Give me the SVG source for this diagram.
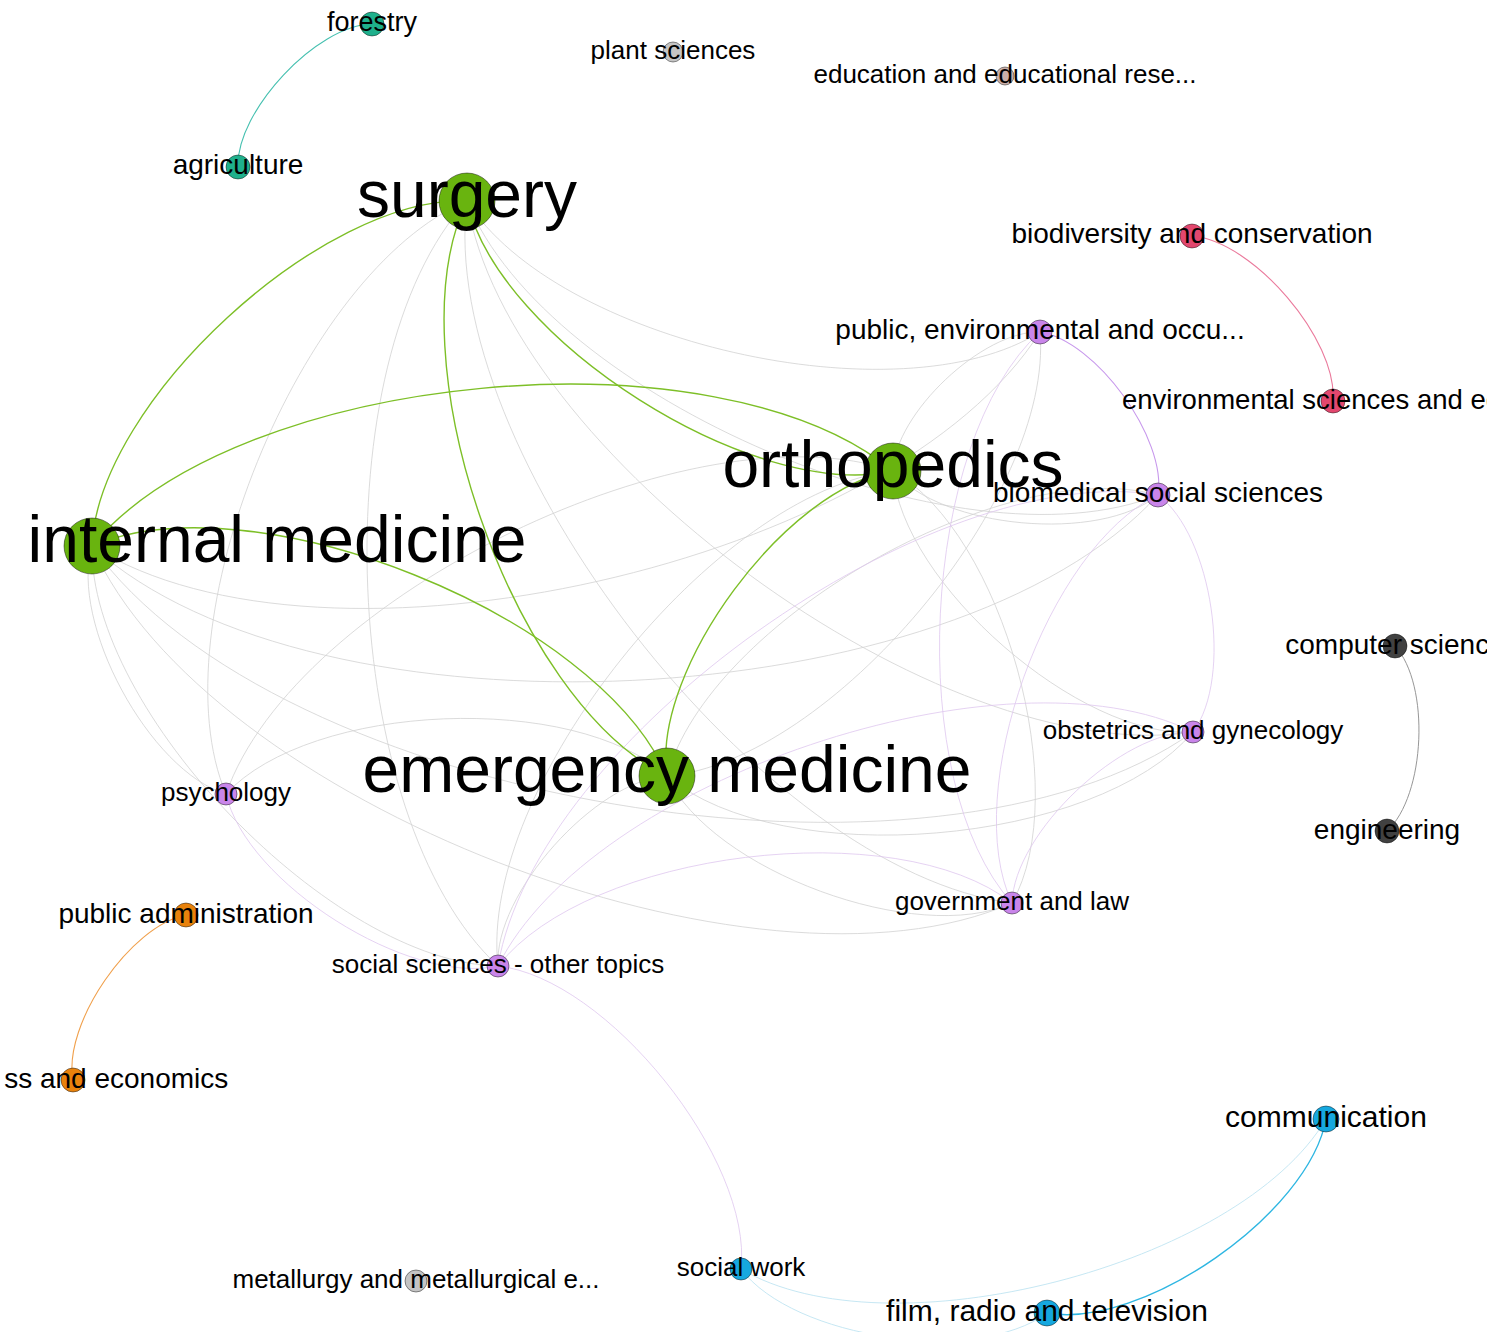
<svg xmlns="http://www.w3.org/2000/svg" width="1506" height="1332" viewBox="0 0 1506 1332">
  <style>
    text { font-family: "Liberation Sans", Arial, sans-serif; fill: #000; text-anchor: middle; }
    .big { font-size: 66px; }
    .s26 { font-size: 26px; }
    .s28 { font-size: 28px; }
    .s30 { font-size: 30px; }
    .edges path { fill: none; }
    .e-green { stroke: #7dbf27; stroke-width: 1.4; }
    .e-gray { stroke: #d2d2d2; stroke-width: 0.8; }
    .e-lilac { stroke: #dec7ef; stroke-width: 0.8; }
    .e-purple { stroke: #c797ec; stroke-width: 1.1; }
    .e-teal { stroke: #46c0b0; stroke-width: 1.1; }
    .e-pink { stroke: #ea7a9c; stroke-width: 1.1; }
    .e-orange { stroke: #f0a04c; stroke-width: 1.1; }
    .e-dark { stroke: #8a8a8a; stroke-width: 0.9; }
    .e-blue { stroke: #2eb6e2; stroke-width: 1.4; }
    .e-blue-faint { stroke: #bfe4f2; stroke-width: 0.9; }
    circle { stroke: #000; stroke-opacity: 0.55; stroke-width: 0.8; }
    .n-green { fill: #69b40f; }
    .n-purple { fill: #c985ea; }
    .n-teal { fill: #1fb08c; }
    .n-red { fill: #e2476e; }
    .n-orange { fill: #e8820c; }
    .n-blue { fill: #16a8df; }
    .n-dark { fill: #414141; }
    .n-light { fill: #c4c4c4; }
    .n-rose { fill: #cbafa8; }
  </style>
  <defs>
    <!-- drawing area: labels running past it are trimmed -->
    <clipPath id="frame"><rect x="4" y="0" width="1483" height="1332"/></clipPath>
  </defs>

  <g clip-path="url(#frame)">
  <!-- curved connectors (cubic arcs, Gephi style) -->
  <g id="edges" class="edges">
    <!-- faint cross links inside the medical / social cluster -->
    <path class="e-gray" d="M1040 332 C899.2 420.4 555.4 341.8 467 201"/>
    <path class="e-gray" d="M1158 495 C961 574.4 546.4 398 467 201"/>
    <path class="e-gray" d="M1193 732 C941.6 771 506 452.4 467 201"/>
    <path class="e-gray" d="M1012 903 C762.6 871.6 435.6 450.4 467 201"/>
    <path class="e-gray" d="M226 794 C155.6 627.2 300.2 271.4 467 201"/>
    <path class="e-gray" d="M498 966 C338.8 819.2 320.2 360.2 467 201"/>
    <path class="e-gray" d="M226 794 C149.6 771.2 69.2 622.4 92 546"/>
    <path class="e-gray" d="M498 966 C332.8 963.2 89.2 711.2 92 546"/>
    <path class="e-gray" d="M1040 332 C893.2 564.4 324.4 692.8 92 546"/>
    <path class="e-gray" d="M1158 495 C955 718.4 315.4 749 92 546"/>
    <path class="e-gray" d="M1193 732 C935.6 915 275 803.4 92 546"/>
    <path class="e-gray" d="M1012 903 C756.6 1015.6 204.6 801.4 92 546"/>
    <path class="e-gray" d="M893 471 C894.6 413.8 982.8 330.4 1040 332"/>
    <path class="e-gray" d="M1158 495 C1100.2 543.2 941.2 528.8 893 471"/>
    <path class="e-gray" d="M1193 732 C1080.8 739.8 900.8 583.2 893 471"/>
    <path class="e-gray" d="M893 471 C1003.2 533.6 1074.6 792.8 1012 903"/>
    <path class="e-gray" d="M498 966 C478 788 715 491 893 471"/>
    <path class="e-gray" d="M226 794 C294.8 596 695 402.2 893 471"/>
    <path class="e-gray" d="M1040 332 C1054.2 495.4 830.4 761.8 667 776"/>
    <path class="e-gray" d="M667 776 C709 621.6 1003.6 453 1158 495"/>
    <path class="e-gray" d="M1193 732 C1096.6 846 781 872.4 667 776"/>
    <path class="e-gray" d="M1012 903 C917.6 946.6 710.6 870.4 667 776"/>
    <path class="e-gray" d="M226 794 C310.6 702.2 575.2 691.4 667 776"/>
    <path class="e-gray" d="M498 966 C493.8 894.2 595.2 780.2 667 776"/>
    <path class="e-lilac" d="M1012 903 C903.4 783.2 920.2 440.6 1040 332"/>
    <path class="e-lilac" d="M1012 903 C959.6 792.2 1047.2 547.4 1158 495"/>
    <path class="e-lilac" d="M1012 903 C1014 832.6 1122.6 730 1193 732"/>
    <path class="e-lilac" d="M498 966 C409.2 986 246 882.8 226 794"/>
    <path class="e-lilac" d="M498 966 C590.2 780.2 1007.2 639.8 1193 732"/>
    <path class="e-lilac" d="M498 966 C535.8 739.8 931.8 457.2 1158 495"/>
    <path class="e-lilac" d="M498 966 C588.2 850.6 896.6 812.8 1012 903"/>
    <path class="e-lilac" d="M1158 495 C1212.4 535.4 1233.4 677.6 1193 732"/>
    <path class="e-lilac" d="M498 966 C607.2 978 753 1159.8 741 1269"/>
    <!-- communication cluster -->
    <path class="e-blue-faint" d="M1326 1119 C1239 1266 888 1356 741 1269"/>
    <path class="e-blue-faint" d="M1047 1313 C977 1365.4 793.4 1339 741 1269"/>
    <path class="e-blue" d="M1326 1119 C1309 1213.6 1141.6 1330 1047 1313"/>
    <!-- small two-node clusters -->
    <path class="e-purple" d="M1040 332 C1096.2 341 1167 438.8 1158 495"/>
    <path class="e-teal" d="M238 167 C236 111.4 316.4 25 372 24"/>
    <path class="e-pink" d="M1192 236 C1253.2 240.8 1337.8 339.8 1333 401"/>
    <path class="e-dark" d="M1395 646 C1430.4 684.6 1425.6 795.6 1387 831"/>
    <path class="e-orange" d="M73 1080 C62.6 1024.4 130.4 925.4 186 915"/>
    <!-- strong links between the four clinical fields -->
    <path class="e-green" d="M92 546 C98 402 323 195 467 201"/>
    <path class="e-green" d="M92 546 C237.2 370.8 717.8 325.8 893 471"/>
    <path class="e-green" d="M893 471 C753.8 502.2 498.2 340.2 467 201"/>
    <path class="e-green" d="M667 776 C512 701 392 356 467 201"/>
    <path class="e-green" d="M92 546 C253 477 598 615 667 776"/>
    <path class="e-green" d="M667 776 C651.2 669.8 786.8 486.8 893 471"/>
  </g>

  <!-- nodes: circle + centred label -->
  <g id="node-forestry"><circle class="n-teal" cx="372" cy="24" r="12"/><text x="372" y="31" style="font-size:27px">forestry</text></g>
  <g id="node-agriculture"><circle class="n-teal" cx="238" cy="167" r="12"/><text class="s28" x="238" y="174">agriculture</text></g>
  <g id="node-plant-sciences"><circle class="n-light" cx="673" cy="52" r="10"/><text class="s26" x="673" y="59">plant sciences</text></g>
  <g id="node-education"><circle class="n-rose" cx="1005" cy="76" r="9"/><text class="s26" x="1005" y="83">education and educational rese...</text></g>
  <g id="node-biodiversity"><circle class="n-red" cx="1192" cy="236" r="12"/><text class="s28" x="1192" y="243">biodiversity and conservation</text></g>
  <g id="node-public-environmental"><circle class="n-purple" cx="1040" cy="332" r="12"/><text class="s28" x="1040" y="339">public, environmental and occu...</text></g>
  <g id="node-environmental-sciences"><circle class="n-red" cx="1333" cy="401" r="12"/><text x="1122" y="409" style="text-anchor:start;font-size:27.5px">environmental sciences and ecology</text></g>
  <g id="node-computer-science"><circle class="n-dark" cx="1395" cy="646" r="12"/><text class="s28" x="1395" y="654">computer science</text></g>
  <g id="node-engineering"><circle class="n-dark" cx="1387" cy="831" r="12"/><text class="s28" x="1387" y="839">engineering</text></g>
  <g id="node-psychology"><circle class="n-purple" cx="226" cy="794" r="11"/><text class="s26" x="226" y="801">psychology</text></g>
  <g id="node-government-law"><circle class="n-purple" cx="1012" cy="903" r="11"/><text class="s26" x="1012" y="910">government and law</text></g>
  <g id="node-public-administration"><circle class="n-orange" cx="186" cy="915" r="12"/><text class="s28" x="186" y="923">public administration</text></g>
  <g id="node-social-sciences-other"><circle class="n-purple" cx="498" cy="966" r="11"/><text class="s26" x="498" y="973">social sciences - other topics</text></g>
  <g id="node-business-economics"><circle class="n-orange" cx="73" cy="1080" r="12"/><text class="s28" x="75" y="1088">business and economics</text></g>
  <g id="node-communication"><circle class="n-blue" cx="1326" cy="1119" r="13"/><text class="s30" x="1326" y="1127">communication</text></g>
  <g id="node-social-work"><circle class="n-blue" cx="741" cy="1269" r="11"/><text class="s26" x="741" y="1276">social work</text></g>
  <g id="node-metallurgy"><circle class="n-light" cx="416" cy="1281" r="11"/><text class="s26" x="416" y="1288">metallurgy and metallurgical e...</text></g>
  <g id="node-film-radio-tv"><circle class="n-blue" cx="1047" cy="1313" r="13"/><text class="s30" x="1047" y="1321">film, radio and television</text></g>
  <g id="node-surgery"><circle class="n-green" cx="467" cy="201" r="28"/><text class="big" x="467" y="217">surgery</text></g>
  <g id="node-internal-medicine"><circle class="n-green" cx="92" cy="546" r="28"/><text class="big" x="277" y="562">internal medicine</text></g>
  <g id="node-emergency-medicine"><circle class="n-green" cx="667" cy="776" r="28"/><text class="big" x="667" y="792">emergency medicine</text></g>
  <g id="node-orthopedics"><circle class="n-green" cx="893" cy="471" r="28"/><text class="big" x="893" y="487">orthopedics</text></g>
  <g id="node-biomedical-social"><circle class="n-purple" cx="1158" cy="495" r="12"/><text class="s28" x="1158" y="502">biomedical social sciences</text></g>
  <g id="node-obstetrics"><circle class="n-purple" cx="1193" cy="732" r="11"/><text class="s26" x="1193" y="739">obstetrics and gynecology</text></g>
  </g>
</svg>
